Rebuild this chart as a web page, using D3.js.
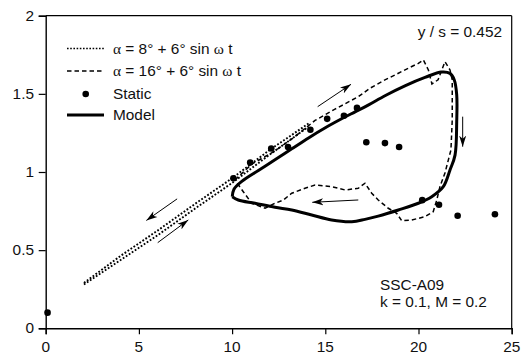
<!DOCTYPE html>
<html><head><meta charset="utf-8">
<script src="https://cdn.jsdelivr.net/npm/d3@7"></script>
<style>
html,body{margin:0;padding:0;background:#fff;}
svg{display:block;}
</style></head>
<body>
<svg id="c" width="521" height="354"></svg>
<script>
// ---- data ----
const xTicks = [0, 5, 10, 15, 20, 25];
const yTicks = [0, 0.5, 1, 1.5, 2];
const yTickLabels = ["0", "0.5", "1", "1.5", "2"];

// static data (alpha, value)
const staticAlpha = [0.1, 10.07, 10.97, 12.1, 13.0, 14.2, 15.1, 16.0, 16.7, 17.2, 18.2, 18.96, 20.2, 21.1, 22.1, 24.1];
const staticVal   = [0.10, 0.96, 1.06, 1.15, 1.16, 1.27, 1.34, 1.36, 1.41, 1.19, 1.185, 1.16, 0.82, 0.79, 0.72, 0.73];

// model loop
const modelAlpha = [10.01,10.10,10.52,11.41,12.30,13.20,14.10,15.00,15.90,16.60,17.30,18.20,19.30,20.35,21.24,21.69,21.92,22.05,22.05,21.96,21.69,21.33,20.71,19.99,18.92,17.84,17.13,16.42,15.34,14.27,13.20,12.30,11.23,10.33,10.01];
const modelVal   = [0.842,0.890,0.940,1.010,1.078,1.148,1.218,1.283,1.342,1.385,1.428,1.488,1.553,1.605,1.640,1.631,1.589,1.493,1.322,1.108,1.013,0.906,0.842,0.800,0.757,0.718,0.697,0.682,0.693,0.725,0.757,0.774,0.800,0.821,0.842];

// alpha = 16 + 6 sin wt (dashed)
const a16Alpha = [10.15,11.05,12.30,13.30,14.45,15.52,16.77,17.40,18.20,18.92,19.45,19.99,20.26,20.53,20.72,21.05,21.42,21.69,21.81,21.81,21.74,21.42,21.15,20.98,20.79,20.35,19.64,19.10,18.83,18.38,17.84,17.49,17.13,16.77,16.06,15.34,14.45,13.91,13.20,12.75,12.30,11.77,11.05,10.60,10.15];
const a16Val   = [0.949,1.050,1.135,1.220,1.330,1.402,1.482,1.536,1.589,1.632,1.664,1.695,1.717,1.653,1.563,1.590,1.706,1.653,1.589,1.333,1.141,0.994,0.906,0.821,0.746,0.714,0.693,0.688,0.736,0.768,0.821,0.864,0.928,0.896,0.885,0.906,0.917,0.896,0.864,0.821,0.800,0.768,0.800,0.874,0.949];

// alpha = 8 + 6 sin wt (dotted), up and down strokes
const a8UpAlpha   = [2.05, 4.0, 6.0, 8.0, 10.0, 12.0, 14.1];
const a8UpVal     = [0.280, 0.435, 0.595, 0.765, 0.930, 1.110, 1.290];
const a8DownAlpha = [14.1, 12.0, 10.0, 8.0, 6.0, 4.0, 2.05];
const a8DownVal   = [1.310, 1.140, 0.960, 0.795, 0.625, 0.462, 0.290];

// arrows [x1,y1,x2,y2] in data units
const arrowX1 = [7.05, 6.01, 14.59, 22.37, 16.77];
const arrowY1 = [0.828, 0.548, 1.418, 1.354, 0.821];
const arrowX2 = [5.40, 7.65, 16.38, 22.37, 14.30];
const arrowY2 = [0.690, 0.693, 1.561, 1.162, 0.806];

// ---- drawing ----
const svg = d3.select("#c");
const x = d3.scaleLinear().domain([0, 25]).range([45.7, 511.7]);
const y = d3.scaleLinear().domain([0, 2]).range([328.3, 15.7]);
const SX = 1.1;
const FONT = "'Liberation Sans', Arial, Helvetica, sans-serif";

function zip(a, b) { return a.map((v, i) => [v, b[i]]); }
const line = d3.line().x(d => x(d[0])).y(d => y(d[1]));
const smooth = d3.line().x(d => x(d[0])).y(d => y(d[1])).curve(d3.curveCatmullRom.alpha(0.5));

function txt(px, py, s, anchor, size) {
  return svg.append("text")
    .attr("transform", `translate(${px},${py}) scale(${SX},1)`)
    .attr("text-anchor", anchor || "start")
    .attr("font-family", FONT)
    .attr("font-size", size || 14)
    .attr("fill", "#111")
    .text(s);
}

// frame
svg.append("line").attr("x1", x(0)).attr("x2", x(25)).attr("y1", y(2)).attr("y2", y(2)).attr("stroke", "#000").attr("stroke-width", 1.2);
svg.append("line").attr("x1", x(25)).attr("x2", x(25)).attr("y1", y(2)).attr("y2", y(0)).attr("stroke", "#000").attr("stroke-width", 1.2);

// axes
const xAxis = d3.axisBottom(x).tickValues(xTicks).tickSize(6).tickFormat("");
const gx = svg.append("g").attr("transform", `translate(0,${y(0)})`).call(xAxis);
const yAxis = d3.axisLeft(y).tickValues(yTicks).tickSize(7).tickFormat("");
const gy = svg.append("g").attr("transform", `translate(${x(0)},0)`).call(yAxis);
[gx, gy].forEach(g => {
  g.select(".domain").attr("stroke", "#000").attr("stroke-width", 1.4);
  g.selectAll(".tick line").attr("stroke", "#000").attr("stroke-width", 1.2);
});
xTicks.forEach(v => txt(x(v), 352, String(v), "middle", 14));
yTicks.forEach((v, i) => txt(34, y(v) + 5, yTickLabels[i], "end", 14));

// dotted alpha=8
[zip(a8UpAlpha, a8UpVal), zip(a8DownAlpha, a8DownVal)].forEach(d => {
  svg.append("path").attr("d", line(d)).attr("fill", "none")
    .attr("stroke", "#000").attr("stroke-width", 1.9).attr("stroke-dasharray", "1.8,1.8");
});

// dashed alpha=16
svg.append("path").attr("d", line(zip(a16Alpha, a16Val))).attr("fill", "none")
  .attr("stroke", "#000").attr("stroke-width", 1.5).attr("stroke-dasharray", "4.5,3");

// model
svg.append("path").attr("d", smooth(zip(modelAlpha, modelVal))).attr("fill", "none")
  .attr("stroke", "#000").attr("stroke-width", 3).attr("stroke-linejoin", "round");

// static points
svg.selectAll("circle.st").data(zip(staticAlpha, staticVal)).enter().append("circle")
  .attr("class", "st").attr("cx", d => x(d[0])).attr("cy", d => y(d[1])).attr("r", 3.3).attr("fill", "#000");

// arrows
const defs = svg.append("defs");
defs.append("marker").attr("id", "ah").attr("viewBox", "0 0 12 8").attr("refX", 11).attr("refY", 4)
  .attr("markerWidth", 12).attr("markerHeight", 8).attr("markerUnits", "userSpaceOnUse").attr("orient", "auto")
  .append("path").attr("d", "M0,0.5 L11,4 L0,7.5 L3,4 Z").attr("fill", "#000");
arrowX1.forEach((v, i) => {
  svg.append("line").attr("x1", x(v)).attr("y1", y(arrowY1[i])).attr("x2", x(arrowX2[i])).attr("y2", y(arrowY2[i]))
    .attr("stroke", "#000").attr("stroke-width", 1).attr("marker-end", "url(#ah)");
});

// legend
const lgX1 = 67, lgX2 = 104, lgTx = 113;
const lgY = [48.5, 71, 94, 115];
svg.append("line").attr("x1", lgX1).attr("x2", lgX2).attr("y1", lgY[0]).attr("y2", lgY[0])
  .attr("stroke", "#000").attr("stroke-width", 1.5).attr("stroke-dasharray", "1.6,1.6");
svg.append("line").attr("x1", lgX1).attr("x2", lgX2).attr("y1", lgY[1]).attr("y2", lgY[1])
  .attr("stroke", "#000").attr("stroke-width", 1.5).attr("stroke-dasharray", "4.5,3");
svg.append("circle").attr("cx", 85.7).attr("cy", lgY[2]).attr("r", 3.3).attr("fill", "#000");
svg.append("line").attr("x1", lgX1).attr("x2", lgX2).attr("y1", lgY[3]).attr("y2", lgY[3])
  .attr("stroke", "#000").attr("stroke-width", 3);

function alphaText(py, deg) {
  const t = txt(lgTx, py, "", "start", 14);
  t.append("tspan").attr("font-family", "'Liberation Serif', 'Times New Roman', serif").text("α");
  t.append("tspan").text(` = ${deg}° + 6° sin `);
  t.append("tspan").attr("font-family", "'Liberation Serif', 'Times New Roman', serif").text("ω");
  t.append("tspan").text(" t");
}
alphaText(lgY[0] + 5, "8");
alphaText(lgY[1] + 5, "16");
txt(lgTx, lgY[2] + 5, "Static", "start", 14);
txt(lgTx, lgY[3] + 5, "Model", "start", 14);

// annotations
txt(502, 37, "y / s = 0.452", "end", 14);
txt(380, 290, "SSC-A09", "start", 14);
txt(380, 307, "k = 0.1, M = 0.2", "start", 14);
</script>
</body></html>
